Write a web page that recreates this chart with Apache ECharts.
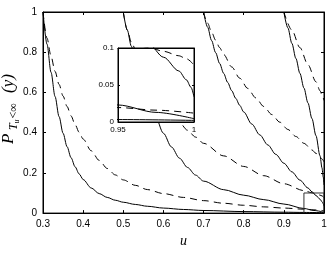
<!DOCTYPE html>
<html><head><meta charset="utf-8">
<script src="https://cdn.jsdelivr.net/npm/echarts@6/dist/echarts.min.js"></script>
<style>html,body{margin:0;padding:0;background:#fff}#c{width:332px;height:253px}</style>
</head><body><div id="c"></div>
<script>
// axis ticks
var xTicksMain = [0.3, 0.4, 0.5, 0.6, 0.7, 0.8, 0.9, 1];
var yTicksMain = [0, 0.2, 0.4, 0.6, 0.8, 1];
var xTicksInset = [0.95, 1];
var yTicksInset = [0, 0.05, 0.1];

// curves [u, P]  (solid = s*, dashed = d*), starting levels y = 0.3, 0.5, 0.7, 0.9
var s1 = [[0.30,1],[0.31,0.84],[0.32,0.70],[0.33,0.58],[0.34,0.48],[0.35,0.397],[0.36,0.33],[0.37,0.275],[0.38,0.23],[0.39,0.195],[0.40,0.167],[0.42,0.125],[0.44,0.097],[0.46,0.078],[0.48,0.064],[0.50,0.054],[0.53,0.043],[0.56,0.034],[0.60,0.025],[0.65,0.018],[0.70,0.013],[0.80,0.0075],[0.90,0.0045],[0.95,0.0033],[1.00,0.0022]];
var d1 = [[0.30,1],[0.31,0.87],[0.32,0.78],[0.33,0.705],[0.34,0.64],[0.35,0.582],[0.36,0.53],[0.37,0.483],[0.38,0.44],[0.39,0.402],[0.40,0.368],[0.42,0.31],[0.44,0.262],[0.46,0.222],[0.48,0.19],[0.50,0.165],[0.53,0.138],[0.56,0.117],[0.60,0.097],[0.65,0.078],[0.70,0.062],[0.75,0.049],[0.80,0.039],[0.85,0.031],[0.90,0.025],[0.95,0.0195],[0.975,0.016],[1.00,0.012]];
var s2 = [[0.50,1],[0.51,0.91],[0.52,0.83],[0.53,0.758],[0.54,0.693],[0.56,0.579],[0.58,0.481],[0.60,0.397],[0.62,0.329],[0.64,0.273],[0.66,0.227],[0.68,0.189],[0.70,0.159],[0.75,0.1165],[0.80,0.089],[0.85,0.067],[0.90,0.045],[0.95,0.023],[0.975,0.013],[1.00,0.0045]];
var d2 = [[0.50,1],[0.51,0.91],[0.52,0.85],[0.54,0.758],[0.56,0.68],[0.58,0.612],[0.60,0.552],[0.62,0.498],[0.64,0.45],[0.66,0.412],[0.68,0.378],[0.70,0.347],[0.75,0.2845],[0.80,0.232],[0.85,0.186],[0.90,0.146],[0.95,0.112],[0.97,0.101],[0.98,0.0955],[0.99,0.0895],[0.995,0.0855],[1.00,0.077]];
var s3 = [[0.70,1],[0.71,0.925],[0.72,0.858],[0.73,0.798],[0.74,0.744],[0.75,0.695],[0.76,0.65],[0.77,0.609],[0.78,0.571],[0.79,0.536],[0.80,0.503],[0.82,0.443],[0.84,0.389],[0.86,0.339],[0.88,0.292],[0.90,0.248],[0.92,0.205],[0.94,0.164],[0.96,0.125],[0.97,0.106],[0.98,0.0875],[0.99,0.069],[0.995,0.057],[0.998,0.047],[1.00,0.034]];
var d3 = [[0.70,1],[0.71,0.945],[0.72,0.90],[0.73,0.86],[0.74,0.823],[0.75,0.789],[0.77,0.727],[0.79,0.671],[0.81,0.62],[0.83,0.573],[0.85,0.53],[0.87,0.49],[0.89,0.452],[0.91,0.416],[0.93,0.381],[0.95,0.347],[0.97,0.314],[0.98,0.297],[0.99,0.279],[0.995,0.269],[1.00,0.255]];
var s4 = [[0.90,1],[0.91,0.921],[0.92,0.844],[0.93,0.769],[0.94,0.695],[0.95,0.622],[0.96,0.548],[0.97,0.47],[0.98,0.385],[0.99,0.285],[0.995,0.225],[0.998,0.18],[1.00,0.14]];
var d4 = [[0.90,1],[0.92,0.91],[0.94,0.823],[0.96,0.738],[0.98,0.653],[0.99,0.609],[0.995,0.586],[1.00,0.56]];
// zoom window [0.95,1] x [0,0.1]
var zoomBox = [[0.95,0],[0.95,0.1],[1,0.1],[1,0]];

var solids = [s1, s2, s3, s4];
var dashes = [d1, d2, d3, d4];

var chart = echarts.init(document.getElementById('c'), null, {renderer:'canvas'});
var tickFont = '"Liberation Sans", Arial, sans-serif';
var serif = '"Liberation Serif", "Times New Roman", serif';

function axis(grid, min, max, interval, pos, labels, fs, z, tickLen, margin) {
  return {type:'value', gridIndex:grid, min:min, max:max, interval:interval, position:pos, z:z,
    axisLine:{show:true, onZero:false, lineStyle:{color:'#000', width:1}},
    axisTick:{show:true, inside:true, length:tickLen, lineStyle:{color:'#000'}},
    axisLabel:{show:labels, color:'#000', fontSize:fs, fontFamily:tickFont, margin:margin},
    splitLine:{show:false}};
}

var xAxes = [
  axis(0, xTicksMain[0], xTicksMain[xTicksMain.length-1], 0.1, 'bottom', true, 10, 3, 3, 6),
  axis(0, xTicksMain[0], xTicksMain[xTicksMain.length-1], 0.1, 'top', false, 10, 3, 3, 6),
  axis(1, xTicksInset[0], xTicksInset[1], 0.05, 'bottom', true, 8, 12, 2, 4),
  axis(1, xTicksInset[0], xTicksInset[1], 0.05, 'top', false, 8, 12, 2, 4)
];
xAxes[0].name = 'u';
xAxes[0].nameLocation = 'middle';
xAxes[0].nameGap = 18;
xAxes[0].nameTextStyle = {fontFamily:serif, fontStyle:'italic', fontSize:14, color:'#000'};

var yAxes = [
  axis(0, yTicksMain[0], yTicksMain[yTicksMain.length-1], 0.2, 'left', true, 10, 3, 3, 6),
  axis(0, yTicksMain[0], yTicksMain[yTicksMain.length-1], 0.2, 'right', false, 10, 3, 3, 6),
  axis(1, yTicksInset[0], yTicksInset[2], 0.05, 'left', true, 8, 12, 2, 4),
  axis(1, yTicksInset[0], yTicksInset[2], 0.05, 'right', false, 8, 12, 2, 4)
];

var series = [];
function addCurves(grid, z) {
  var xi = grid === 0 ? 0 : 2, yi = grid === 0 ? 0 : 2;
  solids.forEach(function (d) {
    series.push({type:'line', xAxisIndex:xi, yAxisIndex:yi, data:d, showSymbol:false, symbol:'none',
      smooth:0.3, smoothMonotone:'x', clip:true, z:z, silent:true,
      lineStyle:{color:'#000', width:1, type:'solid'}});
  });
  dashes.forEach(function (d) {
    series.push({type:'line', xAxisIndex:xi, yAxisIndex:yi, data:d, showSymbol:false, symbol:'none',
      smooth:0.3, smoothMonotone:'x', clip:true, z:z, silent:true,
      lineStyle:{color:'#000', width:1, type:[7,5]}});
  });
}
addCurves(0, 2);
series.push({type:'line', xAxisIndex:0, yAxisIndex:0, data:zoomBox, showSymbol:false, symbol:'none',
  clip:false, z:2, silent:true, lineStyle:{color:'#333', width:1}});
addCurves(1, 11);

var option = {
  animation:false,
  backgroundColor:'#fff',
  grid:[
    {left:43, top:12, width:281, height:209, show:true, borderColor:'#000', borderWidth:1, backgroundColor:'#fff', z:0},
    {left:118, top:48, width:76, height:74, show:true, borderColor:'#000', borderWidth:1, backgroundColor:'#fff', z:10}
  ],
  xAxis:xAxes,
  yAxis:yAxes,
  series:series,
  graphic:[{
    type:'group', x:9, y:144, rotation:Math.PI/2, z:20,
    children:[
      {type:'text', x:0, y:0, style:{text:'P', font:'italic 17px ' + serif, fill:'#000', verticalAlign:'middle', align:'left'}},
      {type:'text', x:14, y:5, style:{text:'T', font:'italic 12px ' + serif, fill:'#000', verticalAlign:'middle', align:'left'}},
      {type:'text', x:20.5, y:8, style:{text:'u', font:'italic 8px ' + serif, fill:'#000', verticalAlign:'middle', align:'left'}},
      {type:'text', x:25.5, y:5, style:{text:'<∞', font:'12px ' + serif, fill:'#000', verticalAlign:'middle', align:'left'}},
      {type:'text', x:51, y:0, style:{text:'(y)', font:'italic 17px ' + serif, fill:'#000', verticalAlign:'middle', align:'left'}}
    ]
  }]
};
chart.setOption(option);
</script>
</body></html>
